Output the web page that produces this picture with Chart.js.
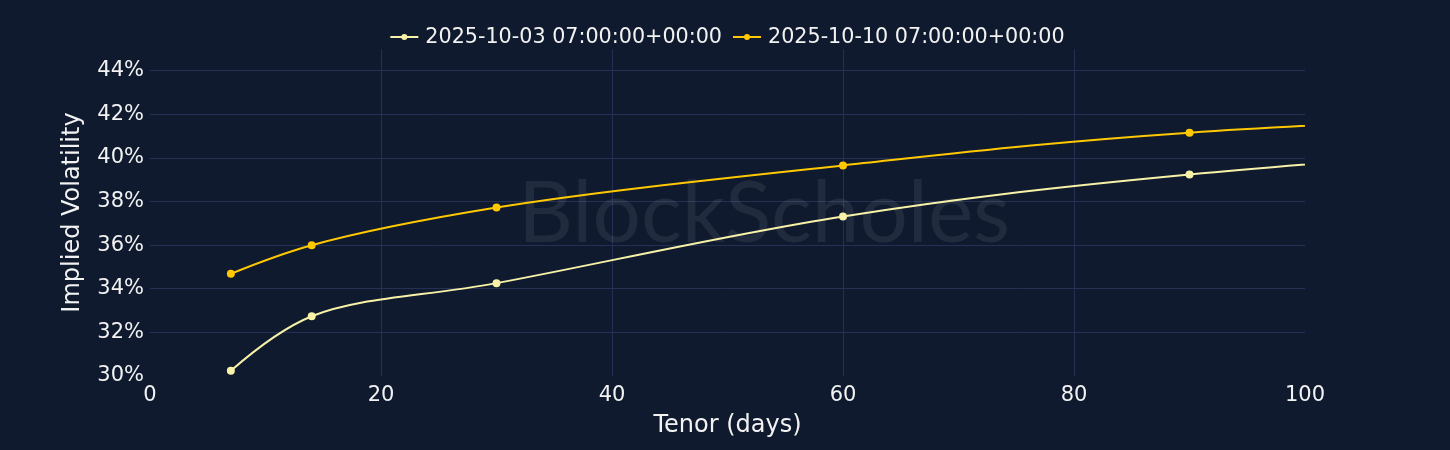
<!DOCTYPE html>
<html>
<head>
<meta charset="utf-8">
<script src="https://cdn.jsdelivr.net/npm/chart.js@4.4.0/dist/chart.umd.min.js"></script>
<style>
  html, body { margin: 0; padding: 0; background: #0f1a2e; }
  #wrap { width: 1450px; height: 450px; }
</style>
</head>
<body>
<div id="wrap"><canvas id="c" width="1450" height="450"></canvas></div>
<script>
const seriesNames = ["2025-10-03 07:00:00+00:00", "2025-10-10 07:00:00+00:00"];
const tenors = [7, 14, 30, 60, 90, 180];
const ivOct03 = [30.24, 32.74, 34.26, 37.32, 39.24, 42.55];
const ivOct10 = [34.69, 36.0, 37.73, 39.66, 41.16, 43.15];
const yTicks = [30, 32, 34, 36, 38, 40, 42, 44];
const xTicks = [0, 20, 40, 60, 80, 100];

const colors = ["#f7f2a8", "#ffc800"];
const BG = "#0f1a2e";
const GRID = "#243154";
const TEXT = "#f2f2f2";
const FONT = "'DejaVu Sans', Verdana, sans-serif";

const bgPlugin = {
  id: 'bg',
  beforeDraw(chart) {
    const ctx = chart.ctx;
    ctx.save();
    ctx.fillStyle = BG;
    ctx.fillRect(0, 0, chart.width, chart.height);
    ctx.restore();
  }
};

// Plotly-style smoothing (smoothing = 1) of the line path, computed from the
// pixel positions that Chart.js' scales give to each point.
function tangent(prev, cur, next, s) {
  const d1x = prev.x - cur.x, d1y = prev.y - cur.y;
  const d2x = next.x - cur.x, d2y = next.y - cur.y;
  const d1a = Math.pow(d1x * d1x + d1y * d1y, 0.25);
  const d2a = Math.pow(d2x * d2x + d2y * d2y, 0.25);
  const numx = (d2a * d2a * d1x - d1a * d1a * d2x) * s;
  const numy = (d2a * d2a * d1y - d1a * d1a * d2y) * s;
  const den1 = 3 * d2a * (d1a + d2a), den2 = 3 * d1a * (d1a + d2a);
  return [{ x: cur.x + numx / den1, y: cur.y + numy / den1 },
          { x: cur.x - numx / den2, y: cur.y - numy / den2 }];
}
const smoothPlugin = {
  id: 'plotlySmooth',
  beforeDatasetDraw(chart, args) {
    const meta = args.meta;
    const line = meta.dataset;
    const pts = meta.data;
    if (!line || pts.length < 3) return;
    line.updateControlPoints(chart.chartArea, 'x');
    const n = pts.length;
    const tans = [];
    for (let i = 1; i < n - 1; i++) {
      const t = tangent(pts[i - 1], pts[i], pts[i + 1], 1);
      tans[i] = t;
      pts[i].cp1x = t[0].x; pts[i].cp1y = t[0].y;
      pts[i].cp2x = t[1].x; pts[i].cp2y = t[1].y;
    }
    // first segment: quadratic with the incoming tangent point of pts[1]
    let C = tans[1][0];
    pts[0].cp2x = pts[0].x + 2 / 3 * (C.x - pts[0].x);
    pts[0].cp2y = pts[0].y + 2 / 3 * (C.y - pts[0].y);
    pts[1].cp1x = pts[1].x + 2 / 3 * (C.x - pts[1].x);
    pts[1].cp1y = pts[1].y + 2 / 3 * (C.y - pts[1].y);
    // last segment: quadratic with the outgoing tangent point of pts[n-2]
    C = tans[n - 2][1];
    const a = pts[n - 2], b = pts[n - 1];
    a.cp2x = a.x + 2 / 3 * (C.x - a.x);
    a.cp2y = a.y + 2 / 3 * (C.y - a.y);
    b.cp1x = b.x + 2 / 3 * (C.x - b.x);
    b.cp1y = b.y + 2 / 3 * (C.y - b.y);
    line._path = undefined;
  }
};

const watermark = {
  id: 'watermark',
  beforeDatasetsDraw(chart) {
    const ctx = chart.ctx;
    ctx.save();
    const txt = "BlockScholes";
    let size = 80;
    ctx.font = "400 " + size + "px Lato, 'Open Sans', sans-serif";
    const w = ctx.measureText(txt).width;
    size = size * 492 / w;
    ctx.font = "400 " + size + "px Lato, 'Open Sans', sans-serif";
    ctx.fillStyle = "rgba(255,255,255,0.075)";
    ctx.textAlign = "center";
    ctx.textBaseline = "middle";
    ctx.fillText(txt, 764, 214);
    ctx.restore();
  }
};

const legendPlugin = {
  id: 'customLegend',
  afterDraw(chart) {
    const ctx = chart.ctx;
    ctx.save();
    ctx.font = "20.7px " + FONT;
    const lineW = 28, gapText = 7, gapItem = 11;
    const widths = seriesNames.map(s => ctx.measureText(s).width);
    let total = 0;
    widths.forEach((w, i) => { total += lineW + gapText + w; if (i < widths.length - 1) total += gapItem; });
    let x = 727.5 - total / 2;
    const y = 37;
    seriesNames.forEach((name, i) => {
      ctx.strokeStyle = colors[i];
      ctx.lineWidth = 2;
      ctx.beginPath();
      ctx.moveTo(x, y);
      ctx.lineTo(x + lineW, y);
      ctx.stroke();
      ctx.fillStyle = colors[i];
      ctx.beginPath();
      ctx.arc(x + lineW / 2, y, 3, 0, Math.PI * 2);
      ctx.fill();
      ctx.fillStyle = TEXT;
      ctx.textAlign = "left";
      ctx.textBaseline = "middle";
      ctx.fillText(name, x + lineW + gapText, y + 1);
      x += lineW + gapText + widths[i] + gapItem;
    });
    ctx.restore();
  }
};

const toXY = (xs, ys) => xs.map((x, i) => ({ x: x, y: ys[i] }));

new Chart(document.getElementById('c'), {
  type: 'line',
  data: {
    datasets: [
      { label: seriesNames[0], data: toXY(tenors, ivOct03), borderColor: colors[0], backgroundColor: colors[0],
        borderWidth: 2, pointRadius: 3, pointHoverRadius: 3, tension: 0.4, fill: false },
      { label: seriesNames[1], data: toXY(tenors, ivOct10), borderColor: colors[1], backgroundColor: colors[1],
        borderWidth: 2, pointRadius: 3, pointHoverRadius: 3, tension: 0.4, fill: false }
    ]
  },
  options: {
    responsive: false,
    animation: false,
    events: [],
    layout: { padding: { top: 49, right: 145, left: 0, bottom: 0 } },
    plugins: { legend: { display: false }, tooltip: { enabled: false } },
    scales: {
      x: {
        type: 'linear', min: 0, max: 100,
        afterBuildTicks(scale) { scale.ticks = xTicks.map(v => ({ value: v })); },
        afterFit(scale) { scale.height = 74; },
        grid: { color: ctx => (ctx.tick && (ctx.tick.value === 0 || ctx.tick.value === 100)) ? 'rgba(0,0,0,0)' : GRID, lineWidth: 1, drawTicks: false },
        border: { display: false },
        ticks: { color: TEXT, font: { family: FONT, size: 21 }, padding: 7, maxRotation: 0 },
        title: { display: true, text: 'Tenor (days)', color: TEXT, font: { family: FONT, size: 24 }, padding: { top: 0, bottom: 10 } }
      },
      y: {
        type: 'linear', min: 30, max: 45,
        afterBuildTicks(scale) { scale.ticks = yTicks.map(v => ({ value: v })); },
        afterFit(scale) { scale.width = 150; },
        grid: { color: ctx => (ctx.tick && ctx.tick.value === 30) ? 'rgba(0,0,0,0)' : GRID, lineWidth: 1, drawTicks: false },
        border: { display: false },
        ticks: { color: TEXT, font: { family: FONT, size: 21 }, padding: 6, callback: v => v + '%' },
        title: { display: true, text: 'Implied Volatility', color: TEXT, font: { family: FONT, size: 24 }, padding: { top: 58, bottom: 0 } }
      }
    }
  },
  plugins: [bgPlugin, watermark, smoothPlugin, legendPlugin]
});
</script>
</body>
</html>
